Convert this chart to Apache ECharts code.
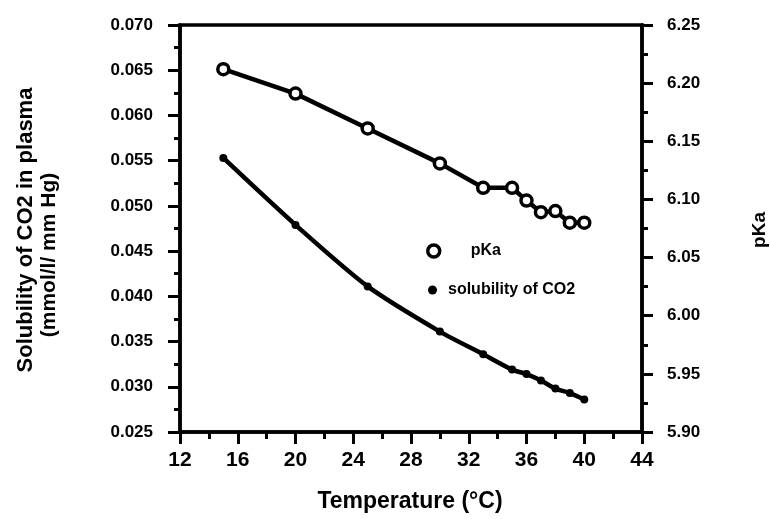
<!DOCTYPE html>
<html>
<head>
<meta charset="utf-8">
<script src="https://cdn.jsdelivr.net/npm/echarts@6/dist/echarts.min.js"></script>
<style>html,body{margin:0;padding:0;background:#fff;}#c{width:770px;height:519px;}</style>
</head>
<body>
<div id="c"></div>
<script>
var temperatures = [15, 20, 25, 30, 33, 35, 36, 37, 38, 39, 40];
var pKaValues = [6.212, 6.191, 6.161, 6.131, 6.110, 6.110, 6.099, 6.089, 6.090, 6.080, 6.080];
var solubilityValues = [0.0553, 0.0479, 0.0411, 0.0361, 0.0336, 0.0319, 0.0314, 0.0307, 0.0298, 0.0293, 0.0286];
var seriesNames = ['pKa', 'solubility of CO2'];
var xTitle = 'Temperature (°C)';
var yLeftTitle1 = 'Solubility of CO2 in plasma';
var yLeftTitle2 = '(mmol/l/ mm Hg)';
var yRightTitle = 'pKa';

var FONT = '"Liberation Sans", Arial, Helvetica, sans-serif';
function pairs(xs, ys) { return xs.map(function (x, i) { return [x, ys[i]]; }); }

var chart = echarts.init(document.getElementById('c'), null, { renderer: 'canvas' });
var axisLine = { show: true, lineStyle: { color: '#000', width: 3.5 } };
chart.setOption({
  animation: false,
  backgroundColor: '#fff',
  grid: { left: 180, right: 128, top: 25, bottom: 87, show: true, borderColor: '#000', borderWidth: 3.5, backgroundColor: 'transparent' },
  legend: [
    { data: [{ name: seriesNames[0], icon: 'circle', itemStyle: { color: '#fff', borderColor: '#000', borderWidth: 3.5 } }],
      left: 421, top: 238, itemWidth: 12, itemHeight: 12, selectedMode: false,
      textStyle: { fontFamily: FONT, fontSize: 16, fontWeight: 'bold', color: '#000', padding: [0, 0, 18, 26] } },
    { data: [{ name: seriesNames[1], icon: 'circle', itemStyle: { color: '#000', borderWidth: 0 } }],
      left: 423, top: 277, itemWidth: 9, itemHeight: 9, selectedMode: false,
      textStyle: { fontFamily: FONT, fontSize: 16, fontWeight: 'bold', color: '#000', padding: [0, 0, 10, 6] } }
  ],
  xAxis: {
    type: 'value', min: 12, max: 44, interval: 4,
    axisLine: axisLine,
    axisTick: { show: true, length: 12, lineStyle: { color: '#000', width: 3 } },
    minorTick: { show: true, splitNumber: 2, length: 7, lineStyle: { color: '#000', width: 3 } },
    splitLine: { show: false },
    axisLabel: { fontFamily: FONT, fontSize: 21, fontWeight: 'bold', color: '#000', margin: 18 }
  },
  yAxis: [
    { type: 'value', min: 0.025, max: 0.070, interval: 0.005, position: 'left',
      axisLine: axisLine,
      axisTick: { show: true, length: 12, lineStyle: { color: '#000', width: 3 } },
      minorTick: { show: true, splitNumber: 2, length: 6, lineStyle: { color: '#000', width: 3 } },
      splitLine: { show: false },
      axisLabel: { fontFamily: FONT, fontSize: 17, fontWeight: 'bold', color: '#000', margin: 27,
        formatter: function (v) { return v.toFixed(3); } } },
    { type: 'value', min: 5.90, max: 6.25, interval: 0.05, position: 'right',
      axisLine: axisLine,
      axisTick: { show: true, length: 11, lineStyle: { color: '#000', width: 3 } },
      minorTick: { show: true, splitNumber: 2, length: 6, lineStyle: { color: '#000', width: 3 } },
      splitLine: { show: false },
      axisLabel: { fontFamily: FONT, fontSize: 17, fontWeight: 'bold', color: '#000', margin: 25,
        formatter: function (v) { return v.toFixed(2); } } }
  ],
  series: [
    { name: seriesNames[0], type: 'line', yAxisIndex: 1, data: pairs(temperatures, pKaValues),
      symbol: 'circle', symbolSize: 11, showAllSymbol: true,
      lineStyle: { color: '#000', width: 4.5 },
      itemStyle: { color: '#fff', borderColor: '#000', borderWidth: 3.5 }, z: 3 },
    { name: seriesNames[1], type: 'line', yAxisIndex: 0, data: pairs(temperatures, solubilityValues),
      smooth: 0.25, symbol: 'circle', symbolSize: 8, showAllSymbol: true,
      lineStyle: { color: '#000', width: 4.5 },
      itemStyle: { color: '#000', borderWidth: 0 }, z: 2 }
  ],
  graphic: [
    { type: 'text', x: 410, y: 502, style: { text: xTitle, font: 'bold 23px ' + FONT, fill: '#000', textAlign: 'center', textVerticalAlign: 'middle' } },
    { type: 'text', x: 26, y: 230, rotation: Math.PI / 2, style: { text: yLeftTitle1, font: 'bold 22px ' + FONT, fill: '#000', textAlign: 'center', textVerticalAlign: 'middle' } },
    { type: 'text', x: 49, y: 255, rotation: Math.PI / 2, style: { text: yLeftTitle2, font: 'bold 21px ' + FONT, fill: '#000', textAlign: 'center', textVerticalAlign: 'middle' } },
    { type: 'text', x: 760, y: 230, rotation: Math.PI / 2, style: { text: yRightTitle, font: 'bold 19px ' + FONT, fill: '#000', textAlign: 'center', textVerticalAlign: 'middle' } }
  ]
});
</script>
</body>
</html>
